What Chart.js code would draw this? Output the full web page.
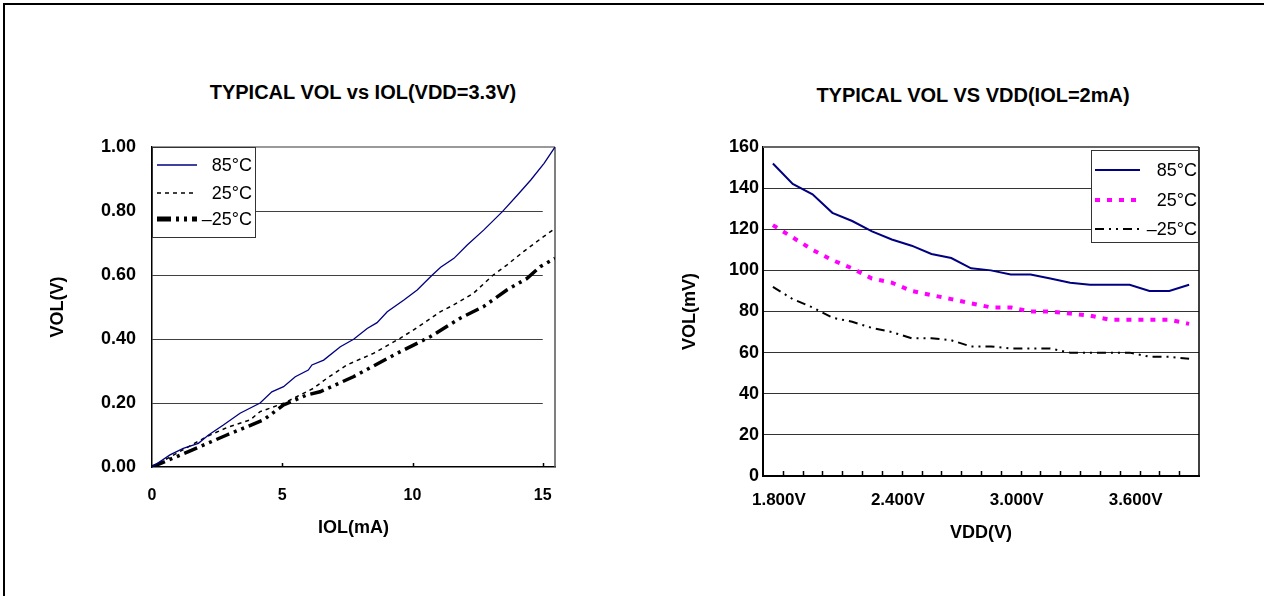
<!DOCTYPE html>
<html>
<head>
<meta charset="utf-8">
<title>VOL charts</title>
<script src="https://cdn.jsdelivr.net/npm/chart.js@4.4.1/dist/chart.umd.min.js"></script>
<style>
  body { margin: 0; background: #fff; }
  #page { position: relative; width: 1264px; height: 596px; overflow: hidden; background: #fff; }
  #frame { position: absolute; left: 3px; top: 3px; width: 1300px; height: 640px;
           border-left: 2px solid #000; border-top: 2px solid #000; }
  .title { position: absolute; transform: translateX(-50%); white-space: nowrap;
           font: bold 20px/20px "Liberation Sans", Arial, sans-serif; color: #000; }
  canvas { position: absolute; top: 0; }
</style>
</head>
<body>
<div id="page">
  <div id="frame"></div>
  <div class="title" style="left:363px; top:82px;">TYPICAL VOL vs IOL(VDD=3.3V)</div>
  <div class="title" style="left:973px; top:85px;">TYPICAL VOL VS VDD(IOL=2mA)</div>
  <canvas id="iolChart" width="632" height="596" style="left:0"></canvas>
  <canvas id="vddChart" width="632" height="596" style="left:632px"></canvas>
</div>

<script>
// ---- left chart: VOL vs IOL (VDD = 3.3V) ----
const iol85 = [0, 0.69, 1.2, 1.78, 2.17, 2.74, 3.38, 4.15, 4.6, 5.05, 5.5, 6.0, 6.14, 6.59, 7.23, 7.74,
               8.26, 8.64, 9.03, 9.67, 10.18, 10.44, 10.76, 11.08, 11.59, 12.1, 12.74, 13.45, 14.03, 14.54, 15.05, 15.47];
const vol85 = [0, 0.038, 0.058, 0.074, 0.100, 0.131, 0.168, 0.200, 0.235, 0.251, 0.282, 0.303, 0.319, 0.334, 0.376, 0.399,
               0.433, 0.451, 0.485, 0.522, 0.553, 0.574, 0.600, 0.624, 0.652, 0.694, 0.741, 0.798, 0.850, 0.897, 0.949, 1.000];

const iol25 = [0, 2.1, 2.87, 3.76, 4.15, 5.05, 6.2, 6.71, 7.48, 8.5, 9.52, 10.03, 10.42, 11.06, 11.57,
               12.34, 13.1, 13.62, 14.26, 15.03, 15.47];
const vol25 = [0, 0.095, 0.123, 0.147, 0.173, 0.199, 0.246, 0.277, 0.319, 0.355, 0.402, 0.428, 0.449, 0.485, 0.506,
               0.543, 0.600, 0.631, 0.673, 0.720, 0.745];

const iolM25 = [0, 1.4, 2.87, 4.28, 5.05, 5.94, 6.45, 7.73, 9.4, 10.68, 11.83, 12.72, 13.62, 14.39, 14.9, 15.47];
const volM25 = [0, 0.048, 0.100, 0.147, 0.194, 0.225, 0.235, 0.282, 0.355, 0.407, 0.465, 0.501, 0.553, 0.589, 0.626, 0.652];

// ---- right chart: VOL vs VDD (IOL = 2mA) ----
const vddLabels = ['1.800V', '1.900V', '2.000V', '2.100V', '2.200V', '2.300V', '2.400V', '2.500V', '2.600V', '2.700V', '2.800V',
                   '2.900V', '3.000V', '3.100V', '3.200V', '3.300V', '3.400V', '3.500V', '3.600V', '3.700V', '3.800V', '3.900V'];
const mv85 = [152, 142, 137, 128, 124, 119, 115, 112, 108, 106, 101, 100, 98, 98, 96, 94, 93, 93, 93, 90, 90, 93];
const mv25 = [122, 116, 110, 105, 101, 96, 94, 90, 88, 86, 84, 82, 82, 80, 80, 79, 78, 76, 76, 76, 76, 74];
const mvM25 = [92, 86, 82, 77, 75, 72, 70, 67, 67, 66, 63, 63, 62, 62, 62, 60, 60, 60, 60, 58, 58, 57];

const seriesNames = ['85°C', '25°C', '–25°C'];

Chart.defaults.font.family = '"Liberation Sans", Arial, sans-serif';
Chart.defaults.color = '#000';

function pairs(xs, ys) {
    return xs.map((x, i) => ({ x: x, y: ys[i] }));
}

function strokeLine(ctx, x1, y1, x2, y2) {
    ctx.beginPath();
    ctx.moveTo(x1, y1);
    ctx.lineTo(x2, y2);
    ctx.stroke();
}

// plot frame, short grid lines and inward tick marks
function framePlugin(o) {
    return {
        id: 'frame',
        beforeDatasetsDraw(chart) {
            const { ctx, chartArea: ca, scales: { x, y } } = chart;
            ctx.save();
            if (o.gridTo !== undefined) {
                const xEnd = x.getPixelForValue(o.gridTo);
                ctx.strokeStyle = o.gridColor;
                ctx.lineWidth = 1;
                y.ticks.forEach(t => {
                    if (t.value > y.min && t.value < y.max) {
                        const py = Math.round(y.getPixelForValue(t.value)) + 0.5;
                        strokeLine(ctx, ca.left, py, xEnd, py);
                    }
                });
            }
            // top + right edge
            ctx.strokeStyle = o.topColor;
            ctx.lineWidth = o.topWidth;
            strokeLine(ctx, ca.left, ca.top, ca.right, ca.top);
            ctx.strokeStyle = o.rightColor;
            ctx.lineWidth = o.rightWidth;
            strokeLine(ctx, ca.right, ca.top, ca.right, ca.bottom);

            // inward tick marks on the x axis
            ctx.strokeStyle = '#000';
            ctx.lineWidth = 1.5;
            let marks = [];
            if (o.tickMode === 'values') {
                marks = x.ticks.filter(t => t.value > x.min).map(t => x.getPixelForValue(t.value));
            } else {
                for (let i = 1; i < chart.data.labels.length; i++) {
                    marks.push((x.getPixelForValue(i - 1) + x.getPixelForValue(i)) / 2);
                }
            }
            marks.forEach(px => {
                px = Math.round(px) + 0.5;
                strokeLine(ctx, px, ca.bottom, px, ca.bottom - o.tickLen);
            });
            ctx.restore();
        }
    };
}

// boxed legend drawn over the plot
function legendPlugin(o) {
    return {
        id: 'boxLegend',
        afterDatasetsDraw(chart) {
            const { ctx, chartArea: ca } = chart;
            const left = o.align === 'right' ? ca.right - o.w : ca.left;
            const top = ca.top + o.top;
            ctx.save();
            ctx.fillStyle = '#fff';
            ctx.fillRect(left, top, o.w, o.h);
            ctx.strokeStyle = '#333';
            ctx.lineWidth = 1;
            ctx.strokeRect(Math.round(left) + 0.5, Math.round(top) + 0.5, o.w - 1, o.h - 1);
            chart.data.datasets.forEach((ds, i) => {
                const yy = top + o.rows[i];
                ctx.strokeStyle = ds.borderColor;
                ctx.lineWidth = ds.legendWidth || ds.borderWidth;
                ctx.setLineDash(ds.borderDash || []);
                strokeLine(ctx, left + o.sample[0], yy, left + o.sample[1], yy);
                ctx.setLineDash([]);
                ctx.fillStyle = '#000';
                ctx.font = '18px "Liberation Sans", Arial, sans-serif';
                ctx.textAlign = 'right';
                ctx.textBaseline = 'alphabetic';
                ctx.fillText(ds.label, left + o.w - o.textPad, yy + 6.4);
            });
            ctx.restore();
        }
    };
}

// left chart
new Chart(document.getElementById('iolChart'), {
    type: 'line',
    data: {
        datasets: [
            { label: seriesNames[0], data: pairs(iol85, vol85), borderColor: '#000080', borderWidth: 1.3 },
            { label: seriesNames[1], data: pairs(iol25, vol25), borderColor: '#000', borderWidth: 1.5, borderDash: [4, 4] },
            { label: seriesNames[2], data: pairs(iolM25, volM25), borderColor: '#000', borderWidth: 3.5,
              legendWidth: 5, borderDash: [14, 5, 3, 5, 3, 5] }
        ]
    },
    options: {
        responsive: false,
        animation: false,
        devicePixelRatio: 1,
        elements: { point: { radius: 0 }, line: { tension: 0 } },
        layout: { padding: { left: 0, right: 77, top: 147, bottom: 0 } },
        plugins: { legend: { display: false }, tooltip: { enabled: false } },
        scales: {
            x: {
                type: 'linear', min: 0, max: 15.47,
                afterFit: s => { s.height = 129; },
                grid: { display: false, drawTicks: false },
                border: { color: '#000', width: 1.5 },
                ticks: { stepSize: 5, includeBounds: false, padding: 19, font: { size: 16, weight: 'bold' } },
                title: { display: true, text: 'IOL(mA)', font: { size: 18, weight: 'bold' }, padding: { top: 0, bottom: 57 } }
            },
            y: {
                min: 0, max: 1,
                afterFit: s => { s.width = 152; },
                grid: { display: false, drawTicks: false },
                border: { color: '#000', width: 1.5 },
                ticks: { stepSize: 0.2, padding: 16, font: { size: 18, weight: 'bold' },
                         callback: v => v.toFixed(2) },
                title: { display: true, text: 'VOL(V)', font: { size: 18, weight: 'bold' }, padding: { top: 47.5, bottom: 0 } }
            }
        }
    },
    plugins: [
        framePlugin({ gridTo: 15, gridColor: '#404040', topColor: '#777', topWidth: 1.5,
                      rightColor: '#555', rightWidth: 1.5, tickMode: 'values', tickLen: 4 }),
        legendPlugin({ align: 'left', top: 0, w: 104, h: 91, rows: [18, 46, 72], sample: [5, 45], textPad: 4 })
    ]
});

// right chart
new Chart(document.getElementById('vddChart'), {
    type: 'line',
    data: {
        labels: vddLabels,
        datasets: [
            { label: seriesNames[0], data: mv85, borderColor: '#000080', borderWidth: 2 },
            { label: seriesNames[1], data: mv25, borderColor: '#ff00ff', borderWidth: 4, borderDash: [5, 7] },
            { label: seriesNames[2], data: mvM25, borderColor: '#000', borderWidth: 2, borderDash: [9, 5, 2, 5, 2, 5] }
        ]
    },
    options: {
        responsive: false,
        animation: false,
        devicePixelRatio: 1,
        elements: { point: { radius: 0 }, line: { tension: 0 } },
        layout: { padding: { left: 0, right: 65, top: 147, bottom: 0 } },
        plugins: { legend: { display: false }, tooltip: { enabled: false } },
        scales: {
            x: {
                type: 'category', offset: true,
                afterFit: s => { s.height = 120; },
                grid: { display: false, drawTicks: false },
                border: { color: '#000', width: 2 },
                ticks: {
                    autoSkip: false, maxRotation: 0, padding: 14, labelOffset: 6,
                    font: { size: 17, weight: 'bold' },
                    callback: function (v, i) { return i % 6 === 0 ? this.getLabelForValue(v) : ''; }
                },
                title: { display: true, text: 'VDD(V)', font: { size: 18, weight: 'bold' }, padding: { top: 0, bottom: 52 } }
            },
            y: {
                min: 0, max: 160,
                afterFit: s => { s.width = 131; },
                grid: { color: '#333', lineWidth: 1, drawTicks: false },
                border: { color: '#000', width: 2 },
                ticks: { stepSize: 20, padding: 4, font: { size: 18, weight: 'bold' } },
                title: { display: true, text: 'VOL(mV)', font: { size: 18, weight: 'bold' }, padding: { top: 47, bottom: 0 } }
            }
        }
    },
    plugins: [
        framePlugin({ topColor: '#666', topWidth: 2, rightColor: '#000', rightWidth: 1.5, tickMode: 'between', tickLen: 5 }),
        legendPlugin({ align: 'right', top: 3, w: 108, h: 93, rows: [20, 50, 79], sample: [4, 49], textPad: 2 })
    ]
});
</script>
</body>
</html>
